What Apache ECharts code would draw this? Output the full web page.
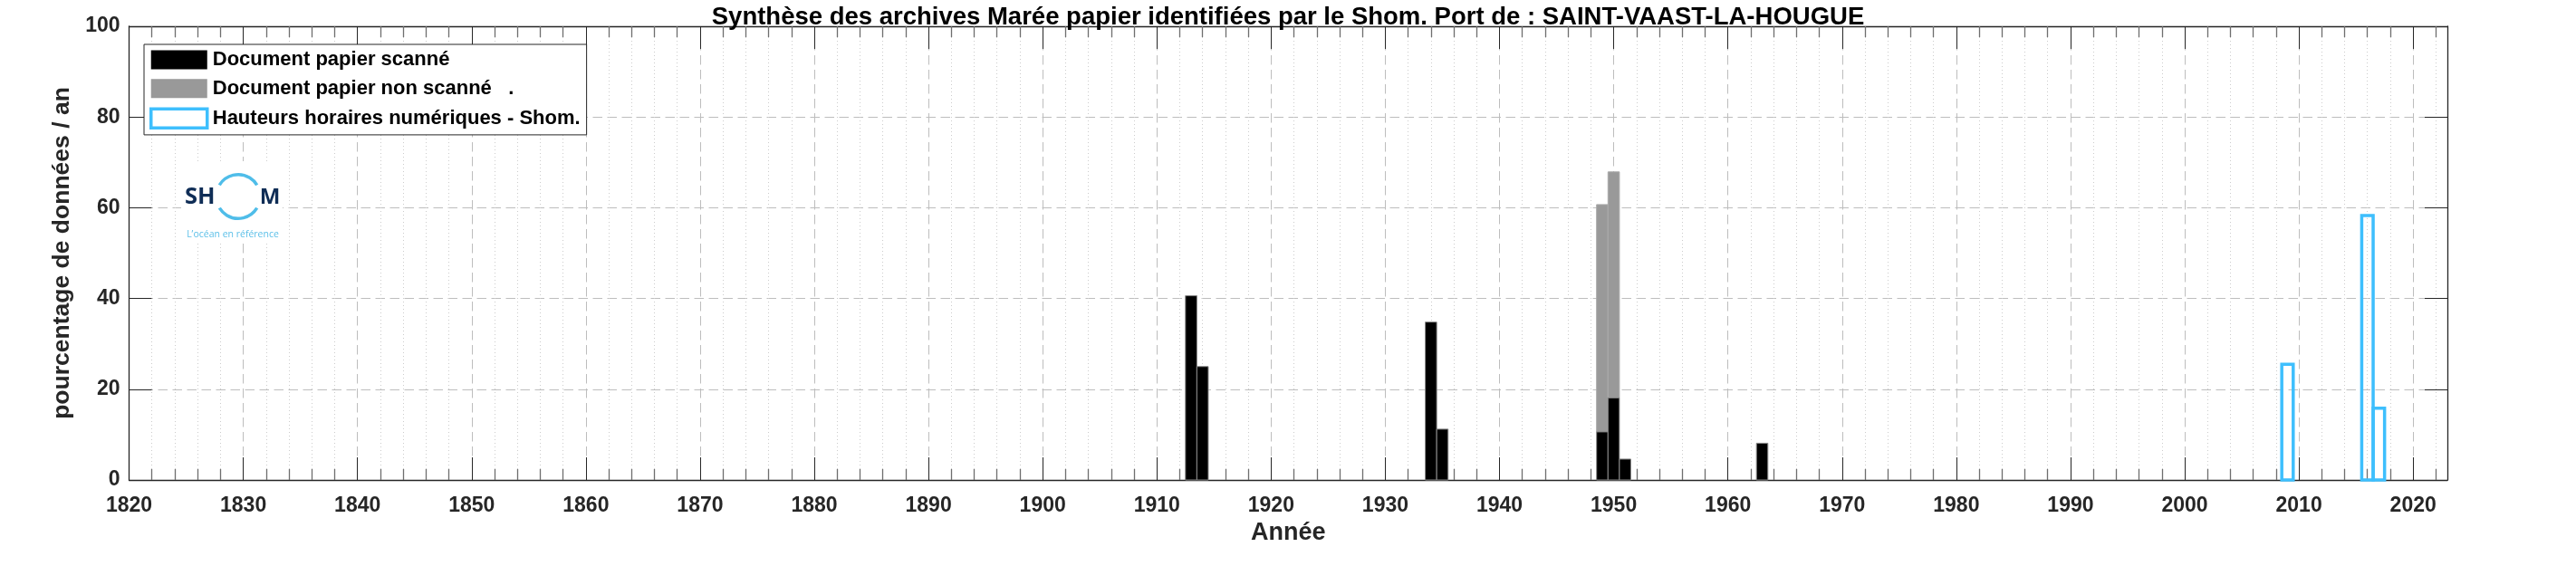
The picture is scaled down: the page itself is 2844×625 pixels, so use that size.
<!DOCTYPE html>
<html>
<head>
<meta charset="utf-8">
<script src="https://cdn.jsdelivr.net/npm/echarts@6/dist/echarts.min.js"></script>
<style>
html,body{margin:0;padding:0;background:#fff;}
#chart{width:2844px;height:625px;}
</style>
</head>
<body>
<div id="chart"></div>
<script>
// ---- data ----
const scannedYears = [1913, 1914, 1934, 1935, 1949, 1950, 1951, 1963];
const scannedValues = [40.6, 25.0, 34.8, 11.2, 10.6, 18.1, 4.6, 8.1];
const nonScannedYears = [1949, 1950];
const nonScannedValues = [50.1, 49.8];   // stacked on top of scanned part
const digitalYears = [2009, 2016, 2017];
const digitalValues = [25.5, 58.3, 15.8];
const yTicks = [0, 20, 40, 60, 80, 100];
const seriesNames = ['Document papier scanné', 'Document papier non scanné   .', 'Hauteurs horaires numériques - Shom.'];
const titleText = 'Synthèse des archives Marée papier identifiées par le Shom. Port de : SAINT-VAAST-LA-HOUGUE';

const FONT = '"Liberation Sans", Arial, sans-serif';
const scannedData = scannedYears.map((y, i) => [y, 0, scannedValues[i]]);
const nonScannedData = nonScannedYears.map((y, i) => {
  const k = scannedYears.indexOf(y);
  const base = k >= 0 ? scannedValues[k] : 0;
  return [y, base, base + nonScannedValues[i]];
});
const digitalData = digitalYears.map((y, i) => [y, 0, digitalValues[i]]);

function makeRender(fill, stroke, lw) {
  return function (params, api) {
    const x = api.value(0), b = api.value(1), t = api.value(2);
    const p0 = api.coord([x - 0.5, t]);
    const p1 = api.coord([x + 0.5, b]);
    return {
      type: 'rect',
      shape: { x: p0[0], y: p0[1], width: p1[0] - p0[0], height: p1[1] - p0[1] },
      style: { fill: fill, stroke: stroke, lineWidth: lw }
    };
  };
}

const chart = echarts.init(document.getElementById('chart'), null, { renderer: 'canvas' });
const axisCol = '#262626';
const blue = '#3ebffd';
const majorGrid = { show: true, lineStyle: { color: '#bdbdbd', width: 1, type: [10.5, 5.5] } };

const option = {
  backgroundColor: '#fff',
  animation: false,
  title: {
    text: titleText, left: 'center', top: 0,
    textStyle: { fontFamily: FONT, fontWeight: 'bold', fontSize: 27.5, color: '#000' }
  },
  grid: { left: 142.5, right: 142, top: 29, bottom: 95, containLabel: false },
  legend: {
    orient: 'vertical', left: 159, top: 49,
    itemWidth: 62, itemHeight: 21, itemGap: 9.7,
    padding: [6, 7, 6, 6],
    borderColor: axisCol, borderWidth: 1, backgroundColor: '#fff',
    textStyle: { fontFamily: FONT, fontWeight: 'bold', fontSize: 22, color: '#000', padding: [3, 0, 0, 1] },
    data: [
      { name: seriesNames[0], icon: 'rect', itemStyle: { color: '#000', borderWidth: 0 } },
      { name: seriesNames[1], icon: 'rect', itemStyle: { color: '#999999', borderWidth: 0 } },
      { name: seriesNames[2], icon: 'rect', itemStyle: { color: 'rgba(255,255,255,0)', borderColor: blue, borderWidth: 3.5 } }
    ],
    selectedMode: false,
    z: 20
  },
  xAxis: [{
    type: 'value', min: 1820, max: 2023, interval: 10,
    axisLine: { show: true, onZero: false, lineStyle: { color: axisCol, width: 1.3 } },
    axisTick: { show: true, inside: true, length: 25, lineStyle: { color: axisCol, width: 1 } },
    minorTick: { show: true, splitNumber: 5, length: 12, lineStyle: { color: '#6e6e6e', width: 1.3 } },
    splitLine: majorGrid,
    minorSplitLine: { show: true, lineStyle: { color: '#cccccc', width: 1, type: [1, 3] } },
    axisLabel: {
      margin: 17, fontFamily: FONT, fontWeight: 'bold', fontSize: 23, color: axisCol,
      formatter: v => (v % 10 === 0 ? String(v) : '')
    },
    name: 'Année', nameLocation: 'middle', nameGap: 40.5,
    nameTextStyle: { fontFamily: FONT, fontWeight: 'bold', fontSize: 27, color: axisCol }
  }, {
    type: 'value', position: 'top', min: 1820, max: 2023, interval: 10,
    axisLine: { show: true, onZero: false, lineStyle: { color: axisCol, width: 1.3 } },
    axisTick: { show: true, inside: true, length: 25, lineStyle: { color: axisCol, width: 1 } },
    minorTick: { show: true, splitNumber: 5, length: 12, lineStyle: { color: '#6e6e6e', width: 1.3 } },
    splitLine: { show: false }, axisLabel: { show: false }
  }],
  yAxis: [{
    type: 'value', min: yTicks[0], max: yTicks[yTicks.length - 1], interval: 20,
    axisLine: { show: true, onZero: false, lineStyle: { color: axisCol, width: 1.3 } },
    axisTick: { show: true, inside: true, length: 25, lineStyle: { color: axisCol, width: 1 } },
    splitLine: majorGrid,
    axisLabel: { margin: 10, fontFamily: FONT, fontWeight: 'bold', fontSize: 23, color: axisCol },
    name: 'pourcentage de données / an', nameLocation: 'middle', nameGap: 60,
    nameTextStyle: { fontFamily: FONT, fontWeight: 'bold', fontSize: 26.5, color: axisCol }
  }, {
    type: 'value', position: 'right', min: 0, max: 100, interval: 20,
    axisLine: { show: true, onZero: false, lineStyle: { color: axisCol, width: 1.3 } },
    axisTick: { show: true, inside: true, length: 25, lineStyle: { color: axisCol, width: 1 } },
    splitLine: { show: false }, axisLabel: { show: false }
  }],
  series: [
    {
      name: seriesNames[1], type: 'custom', xAxisIndex: 0, yAxisIndex: 0,
      renderItem: makeRender('#999999', '#aaaaaa', 1), data: nonScannedData,
      encode: { x: 0, y: [1, 2] }, clip: false, z: 3
    },
    {
      name: seriesNames[0], type: 'custom', xAxisIndex: 0, yAxisIndex: 0,
      renderItem: makeRender('#000000', '#8a8a8a', 1), data: scannedData,
      encode: { x: 0, y: [1, 2] }, clip: false, z: 4
    },
    {
      name: seriesNames[2], type: 'custom', xAxisIndex: 0, yAxisIndex: 0,
      renderItem: makeRender('rgba(255,255,255,0)', blue, 3.5), data: digitalData,
      encode: { x: 0, y: [1, 2] }, clip: false, z: 5
    }
  ],
  graphic: [
    { id: 'logoBg', type: 'rect', z: 10, shape: { x: 200, y: 178, width: 112, height: 88 }, style: { fill: '#fff' } },
    { id: 'ringTop', type: 'arc', z: 11, shape: { cx: 263, cy: 217, r: 24.3, startAngle: Math.PI + 0.55, endAngle: 2 * Math.PI - 0.55 },
      style: { stroke: '#4fbde9', lineWidth: 3.5, fill: null } },
    { id: 'ringBot', type: 'arc', z: 11, shape: { cx: 263, cy: 217, r: 24.3, startAngle: 0.55, endAngle: Math.PI - 0.55 },
      style: { stroke: '#4fbde9', lineWidth: 3.5, fill: null } },
    { id: 'logoSH', type: 'text', z: 12, style: { text: 'SH', x: 204, y: 218, verticalAlign: 'middle', fill: '#0f2d56',
      font: 'bold 25.5px "Open Sans", "Liberation Sans", sans-serif' } },
    { id: 'logoM', type: 'text', z: 12, style: { text: 'M', x: 298, y: 218, align: 'center', verticalAlign: 'middle', fill: '#0f2d56',
      font: 'bold 24px "Open Sans", "Liberation Sans", sans-serif' } },
    { id: 'logoTag', type: 'text', z: 12, style: { text: 'L\u2019océan en référence', x: 257, y: 259, align: 'center', verticalAlign: 'middle',
      fill: '#5bbfe8', font: '10.5px "Open Sans", "Liberation Sans", sans-serif' } }
  ]
};
chart.setOption(option);
</script>
</body>
</html>
